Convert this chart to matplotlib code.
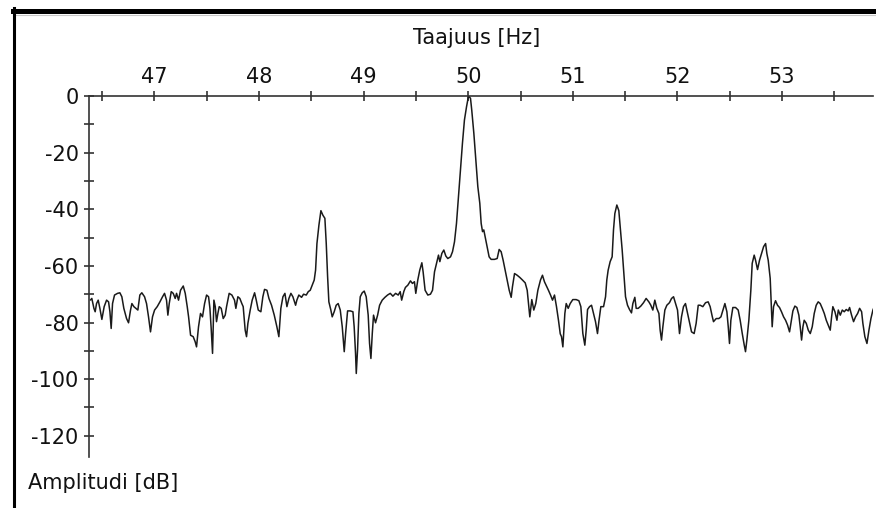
import numpy as np
import matplotlib
matplotlib.use("Agg")
import matplotlib.pyplot as plt
from matplotlib.ticker import MultipleLocator
from matplotlib.lines import Line2D

# spektri, luettu kuvasta (Hz, dB)
freq_hz = [
    46.390, 46.402, 46.422, 46.434, 46.447, 46.463, 46.479, 46.498, 46.520, 46.543,
    46.562, 46.575, 46.587, 46.600, 46.619, 46.648, 46.670, 46.689, 46.708, 46.734,
    46.753, 46.772, 46.785, 46.804, 46.823, 46.842, 46.861, 46.880, 46.906, 46.925,
    46.944, 46.963, 46.982, 47.002, 47.027, 47.053, 47.078, 47.097, 47.116, 47.129,
    47.142, 47.161, 47.180, 47.199, 47.212, 47.231, 47.250, 47.276, 47.295, 47.314,
    47.327, 47.346, 47.371, 47.390, 47.403, 47.422, 47.441, 47.460, 47.480, 47.499,
    47.518, 47.531, 47.543, 47.556, 47.569, 47.582, 47.594, 47.607, 47.620, 47.639,
    47.658, 47.677, 47.690, 47.715, 47.741, 47.766, 47.779, 47.798, 47.817, 47.836,
    47.849, 47.868, 47.881, 47.894, 47.916, 47.935, 47.958, 47.974, 47.993, 48.018,
    48.037, 48.053, 48.076, 48.095, 48.120, 48.146, 48.171, 48.190, 48.209, 48.229,
    48.248, 48.267, 48.286, 48.305, 48.324, 48.350, 48.362, 48.381, 48.407, 48.426,
    48.452, 48.471, 48.490, 48.509, 48.528, 48.541, 48.554, 48.573, 48.592, 48.611,
    48.630, 48.643, 48.656, 48.668, 48.687, 48.700, 48.719, 48.738, 48.757, 48.777,
    48.796, 48.815, 48.828, 48.847, 48.872, 48.898, 48.910, 48.923, 48.930, 48.942,
    48.955, 48.968, 48.987, 49.006, 49.025, 49.044, 49.057, 49.070, 49.083, 49.095,
    49.114, 49.134, 49.153, 49.178, 49.204, 49.229, 49.255, 49.280, 49.306, 49.331,
    49.350, 49.364, 49.385, 49.400, 49.423, 49.448, 49.467, 49.486, 49.499, 49.518,
    49.537, 49.557, 49.569, 49.588, 49.614, 49.639, 49.659, 49.678, 49.697, 49.716,
    49.729, 49.748, 49.767, 49.786, 49.805, 49.831, 49.850, 49.869, 49.888, 49.907,
    49.926, 49.945, 49.964, 49.984, 50.003, 50.022, 50.034, 50.054, 50.073, 50.092,
    50.111, 50.124, 50.137, 50.149, 50.162, 50.181, 50.200, 50.219, 50.251, 50.277,
    50.296, 50.315, 50.334, 50.353, 50.372, 50.392, 50.411, 50.423, 50.443, 50.468,
    50.494, 50.519, 50.545, 50.564, 50.576, 50.589, 50.608, 50.627, 50.646, 50.666,
    50.691, 50.710, 50.729, 50.748, 50.767, 50.787, 50.806, 50.825, 50.844, 50.863,
    50.880, 50.892, 50.905, 50.924, 50.937, 50.956, 50.975, 51.000, 51.032, 51.058,
    51.077, 51.096, 51.115, 51.128, 51.141, 51.160, 51.179, 51.198, 51.217, 51.236,
    51.249, 51.268, 51.294, 51.313, 51.325, 51.338, 51.357, 51.376, 51.389, 51.402,
    51.421, 51.440, 51.453, 51.472, 51.491, 51.504, 51.523, 51.542, 51.561, 51.574,
    51.593, 51.606, 51.625, 51.650, 51.676, 51.701, 51.727, 51.746, 51.765, 51.784,
    51.803, 51.823, 51.835, 51.848, 51.861, 51.880, 51.899, 51.924, 51.944, 51.963,
    51.982, 52.001, 52.020, 52.039, 52.058, 52.077, 52.097, 52.116, 52.135, 52.160,
    52.179, 52.199, 52.218, 52.243, 52.269, 52.294, 52.313, 52.332, 52.345, 52.371,
    52.396, 52.416, 52.435, 52.454, 52.473, 52.486, 52.498, 52.511, 52.530, 52.556,
    52.581, 52.600, 52.620, 52.639, 52.651, 52.664, 52.683, 52.702, 52.715, 52.734,
    52.747, 52.766, 52.785, 52.804, 52.824, 52.843, 52.855, 52.868, 52.887, 52.900,
    52.906, 52.919, 52.938, 52.957, 52.976, 52.995, 53.015, 53.034, 53.053, 53.072,
    53.085, 53.104, 53.123, 53.142, 53.161, 53.174, 53.187, 53.200, 53.212, 53.232,
    53.251, 53.270, 53.289, 53.308, 53.327, 53.346, 53.365, 53.385, 53.404, 53.423,
    53.442, 53.461, 53.474, 53.486, 53.506, 53.525, 53.538, 53.557, 53.576, 53.595,
    53.614, 53.633, 53.646, 53.665, 53.684, 53.703, 53.723, 53.742, 53.761, 53.773,
    53.792, 53.812, 53.831, 53.850, 53.869, 53.888,
]
level_db = [
    -72.0, -71.5, -75.0, -76.2, -73.3, -72.1, -75.0, -78.9, -74.4, -72.1,
    -72.7, -76.2, -82.1, -73.3, -70.3, -69.7, -69.5, -70.9, -75.0, -78.6,
    -80.1, -75.6, -73.3, -74.4, -75.0, -75.6, -70.3, -69.5, -70.9, -73.3,
    -78.0, -83.3, -78.0, -75.6, -74.4, -72.7, -70.9, -69.7, -72.1, -77.4,
    -73.3, -69.1, -69.7, -71.5, -69.7, -72.1, -68.6, -67.1, -69.7, -74.4,
    -78.0, -84.5, -85.0, -86.8, -88.6, -81.5, -76.8, -78.0, -73.3, -70.3,
    -70.9, -75.0, -82.1, -90.9, -72.1, -74.4, -79.7, -76.8, -74.4, -75.0,
    -78.6, -77.4, -74.4, -69.7, -70.3, -72.1, -75.0, -70.9, -71.5, -73.3,
    -74.4, -82.7, -85.0, -80.3, -75.6, -72.1, -69.5, -72.1, -75.6, -76.2,
    -70.9, -68.3, -68.6, -71.5, -73.9, -77.4, -81.5, -85.0, -75.0, -70.9,
    -69.7, -74.4, -71.5, -69.7, -70.9, -73.9, -72.1, -70.3, -71.1, -70.0,
    -70.3, -69.1, -68.6, -66.8, -65.0, -61.5, -52.1, -45.6, -40.5, -42.1,
    -43.2, -52.1, -63.8, -72.7, -75.6, -78.0, -76.2, -73.9, -73.3, -75.6,
    -81.5, -90.3, -83.9, -75.9, -75.9, -76.2, -81.5, -90.9, -98.0, -89.8,
    -76.8, -70.9, -69.5, -68.9, -70.9, -77.4, -87.4, -92.7, -83.9, -77.4,
    -80.1, -77.4, -73.9, -72.1, -71.1, -70.3, -69.7, -70.7, -69.7, -70.3,
    -69.1, -72.1, -69.0, -67.6, -66.8, -65.3, -66.2, -65.6, -69.7, -65.0,
    -61.5, -58.9, -62.1, -68.6, -70.3, -70.0, -68.6, -62.1, -59.1, -56.2,
    -58.5, -55.6, -54.4, -56.5, -57.4, -56.8, -55.0, -51.5, -45.0, -35.6,
    -26.1, -16.7, -8.5, -3.8, 0.0, -0.8, -5.0, -13.2, -22.6, -32.0,
    -37.9, -45.0, -47.9, -47.3, -49.7, -53.2, -56.8, -57.7, -57.7, -57.4,
    -54.2, -55.0, -58.0, -61.5, -65.0, -68.6, -71.1, -67.4, -62.7, -63.3,
    -64.1, -65.0, -66.0, -68.6, -73.3, -78.0, -71.9, -75.6, -73.3, -68.6,
    -65.0, -63.3, -65.6, -67.1, -68.6, -70.3, -72.1, -70.3, -74.4, -79.2,
    -84.0, -85.0, -88.6, -76.8, -73.3, -75.0, -73.3, -71.9, -71.9, -72.3,
    -74.4, -83.9, -88.0, -82.7, -75.4, -74.4, -73.9, -76.8, -79.7, -83.9,
    -79.7, -74.4, -74.4, -70.9, -65.0, -61.5, -58.5, -56.8, -47.3, -41.5,
    -38.5, -40.5, -46.2, -54.4, -64.4, -70.9, -73.9, -75.4, -76.6, -73.3,
    -71.1, -75.0, -75.0, -74.2, -73.0, -71.5, -72.7, -73.9, -75.6, -72.1,
    -75.0, -76.8, -82.7, -86.2, -81.5, -75.6, -73.9, -73.0, -71.5, -70.9,
    -73.3, -75.6, -83.9, -78.0, -74.4, -73.3, -76.8, -80.3, -83.3, -83.9,
    -80.3, -73.9, -73.9, -74.4, -73.0, -72.7, -74.4, -77.7, -79.7, -78.6,
    -78.6, -78.0, -75.6, -73.3, -76.2, -81.5, -87.4, -79.2, -74.7, -74.7,
    -75.6, -79.2, -83.9, -88.0, -90.3, -86.2, -79.2, -68.6, -59.1, -56.2,
    -58.0, -61.3, -58.0, -55.6, -53.2, -52.1, -55.6, -58.0, -64.4, -75.6,
    -81.5, -74.4, -72.3, -73.9, -74.7, -76.2, -78.0, -79.2, -80.9, -83.3,
    -80.3, -75.9, -74.2, -74.7, -77.4, -81.5, -86.2, -81.5, -79.2, -80.3,
    -82.7, -83.9, -81.5, -76.8, -73.9, -72.7, -73.3, -75.0, -76.8, -79.2,
    -80.9, -82.7, -78.0, -74.4, -76.2, -79.2, -75.6, -77.4, -75.6, -76.2,
    -75.4, -75.9, -74.7, -77.4, -79.7, -78.0, -76.8, -75.0, -76.2, -80.3,
    -85.0, -87.4, -82.7, -78.6, -75.6, -73.9,
]

x_ticks = [47, 48, 49, 50, 51, 52, 53]
y_ticks = [0, -20, -40, -60, -80, -100, -120]

plt.rcParams['font.family'] = 'DejaVu Sans'
plt.rcParams['font.size'] = 15

fig = plt.figure(figsize=(8.76, 5.08), dpi=100)
ax = fig.add_axes([0.1016, 0.1004, 0.8950, 0.7106])

ax.plot(freq_hz, level_db, color='#1a1a1a', lw=1.1)
ax.set_xlim(46.375, 53.87)
ax.set_ylim(-127.5, 0)

# akselit: x ylhaalla (0 dB), y vasemmalla
for s in ['bottom', 'right']:
    ax.spines[s].set_visible(False)
for s in ['top', 'left']:
    ax.spines[s].set_linewidth(1.2)
    ax.spines[s].set_color('#333333')

ax.xaxis.tick_top()
ax.set_xticks(x_ticks)
ax.set_xticklabels([str(v) for v in x_ticks])
ax.set_yticks(y_ticks)
ax.set_yticklabels([str(v) for v in y_ticks])
ax.xaxis.set_minor_locator(MultipleLocator(0.5))
ax.yaxis.set_minor_locator(MultipleLocator(10))
ax.tick_params(which='both', direction='inout', length=7, width=1.2,
               color='#333333', labelcolor='#111111')
ax.tick_params(axis='x', pad=3)
ax.tick_params(axis='y', pad=4)

fig.text(0.5445, 0.925, 'Taajuus [Hz]', ha='center', va='center', color='#111111')
fig.text(28 / 876, 1 - 483 / 508, 'Amplitudi [dB]', ha='left', va='center', color='#111111')

# kehys kuvan ylä- ja vasemmassa reunassa
fig.add_artist(Line2D([13 / 876, 1], [1 - 10.5 / 508, 1 - 10.5 / 508],
                      transform=fig.transFigure, color='black', lw=3.6))
fig.add_artist(Line2D([13 / 876, 1], [1 - 14.5 / 508, 1 - 14.5 / 508],
                      transform=fig.transFigure, color='#c8c8c8', lw=0.8))
fig.add_artist(Line2D([14 / 876, 14 / 876], [1 - 8 / 508, 0],
                      transform=fig.transFigure, color='black', lw=2.2))

plt.savefig('out.png', dpi=100)
